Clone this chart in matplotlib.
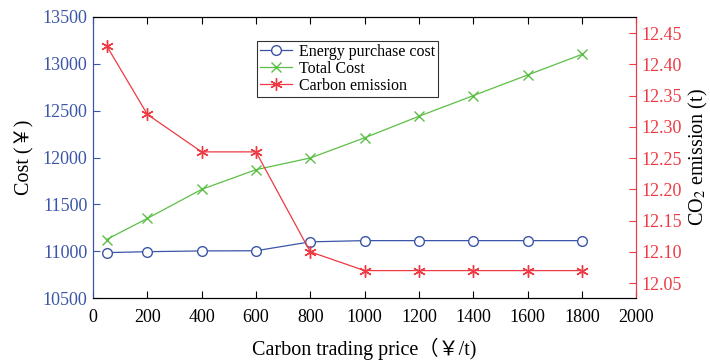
import matplotlib
matplotlib.use("Agg")
import matplotlib.pyplot as plt

plt.rcParams['font.family'] = ['Liberation Serif', 'Noto Sans CJK SC', 'DejaVu Sans']
plt.rcParams['mathtext.fontset'] = 'stix'

price = [50, 200, 400, 600, 800, 1000, 1200, 1400, 1600, 1800]
energy_cost = [10985, 10995, 11003, 11005, 11100, 11113, 11113, 11113, 11113, 11113]
total_cost = [11125, 11350, 11660, 11870, 11995, 12210, 12440, 12660, 12880, 13100]
emission = [12.43, 12.32, 12.26, 12.26, 12.10, 12.07, 12.07, 12.07, 12.07, 12.07]

blue = '#3b55a8'
green = '#5cbf45'
red = '#ee3a43'

fig = plt.figure(figsize=(7.1, 3.6), dpi=100)
ax = fig.add_axes([0.131, 0.172, 0.765, 0.781])
ax2 = ax.twinx()

l1, = ax.plot(price, energy_cost, color=blue, marker='o', mfc='white', mec=blue, ms=7, lw=0.9,
              label='Energy purchase cost')
l2, = ax.plot(price, total_cost, color=green, marker='x', ms=7, lw=0.9, mew=1.0, label='Total Cost')
l3, = ax2.plot(price, emission, color=red, marker=(6, 2, 0), ms=9, lw=0.9, mew=1.0, label='Carbon emission')

ax.set_xlim(0, 2000)
ax.set_ylim(10500, 13500)
ax2.set_ylim(12.026, 12.476)
ax.set_xticks(range(0, 2001, 200))
ax.set_yticks(range(10500, 13501, 500))
rt = [12.05, 12.10, 12.15, 12.20, 12.25, 12.30, 12.35, 12.40, 12.45]
ax2.set_yticks(rt)
ax2.set_yticklabels(['%.2f' % v for v in rt])

ax.tick_params(axis='x', direction='in', labelsize=13, top=True, colors='black', length=5, pad=8)
ax.tick_params(axis='y', direction='in', labelsize=13, colors=blue, length=5, pad=4)
ax2.tick_params(axis='y', direction='in', labelsize=13, colors=red, length=5, pad=4)

for a in (ax, ax2):
    a.spines['left'].set_color(blue)
    a.spines['right'].set_color(red)

ax.set_xlabel('Carbon trading price（￥/t)', fontsize=14.5, labelpad=8)
ax.set_ylabel('Cost (￥)', fontsize=14.5, labelpad=6)
ax2.set_ylabel('CO$_2$ emission (t)', fontsize=14.5, labelpad=3)

leg = ax.legend(handles=[l1, l2, l3], loc='upper left', bbox_to_anchor=(0.302, 0.915),
                fontsize=11.5, frameon=True, fancybox=False, edgecolor='black',
                borderpad=0.2, labelspacing=0.05, handlelength=2.0, handletextpad=0.4,
                borderaxespad=0)
leg.get_frame().set_linewidth(0.8)

fig.savefig('out.png', dpi=100)
